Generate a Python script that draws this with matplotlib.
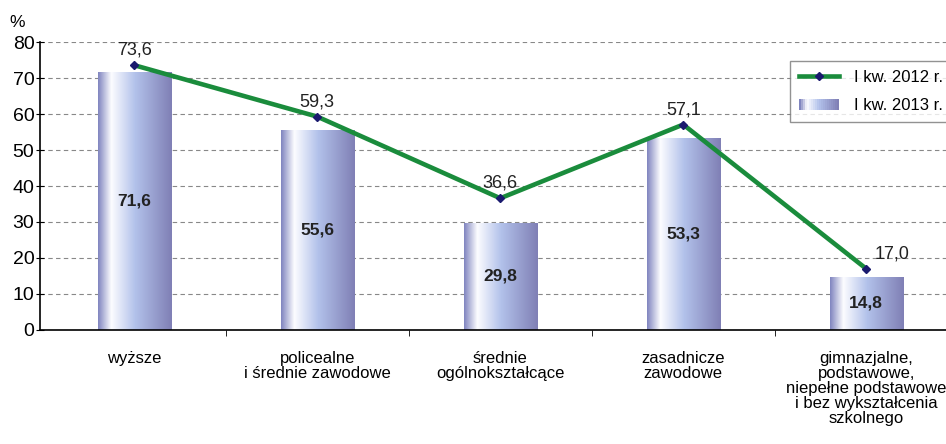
import numpy as np
import matplotlib.pyplot as plt
from matplotlib.colors import LinearSegmentedColormap
from matplotlib.patches import Rectangle
from matplotlib.lines import Line2D
from matplotlib.legend_handler import HandlerBase

plt.rcParams['font.family'] = ['Liberation Sans', 'DejaVu Sans']

categories = ['wyższe', 'policealne\ni średnie zawodowe', 'średnie\nogólnokształcące',
              'zasadnicze\nzawodowe',
              'gimnazjalne,\npodstawowe,\nniepełne podstawowe\ni bez wykształcenia\nszkolnego']
q1_2012 = [73.6, 59.3, 36.6, 57.1, 17.0]
q1_2013 = [71.6, 55.6, 29.8, 53.3, 14.8]
line_label_dx = [0, 0, 0, 0, 0.14]

# gradient for the bars (left dark, bright highlight, then darker to the right)
grad = LinearSegmentedColormap.from_list('bar', [
    (0.00, (0.50, 0.52, 0.75)),
    (0.18, (0.99, 0.99, 1.00)),
    (0.50, (0.70, 0.76, 0.92)),
    (1.00, (0.50, 0.50, 0.71)),
])
green = '#1a8c3c'

fig = plt.figure(figsize=(9.46, 4.44), dpi=100)
ax = fig.add_axes([0.0423, 0.257, 0.973, 0.648])

x = np.arange(len(categories))
width = 0.4
bars = ax.bar(x, q1_2013, width=width, color='none', zorder=2)
g = np.linspace(0, 1, 256).reshape(1, -1)
for b in bars:
    x0, y0 = b.get_x(), b.get_y()
    w, h = b.get_width(), b.get_height()
    im = ax.imshow(g, cmap=grad, aspect='auto', extent=[x0, x0 + w, y0, y0 + h], zorder=2)
    im.set_clip_path(b)

for xi, v in zip(x, q1_2013):
    ax.text(xi, v / 2, f'{v:.1f}'.replace('.', ','), ha='center', va='center',
            fontsize=12.5, fontweight='semibold', color='#222222', zorder=4)

ax.plot(x, q1_2012, color=green, lw=3.3, zorder=3, solid_capstyle='butt')
ax.plot(x, q1_2012, ls='none', marker='D', ms=4, color='#1a1a6e', zorder=4)
for xi, v, dx in zip(x, q1_2012, line_label_dx):
    ax.text(xi + dx, v + 1.8, f'{v:.1f}'.replace('.', ','), ha='center', va='bottom',
            fontsize=13, color='#222222', zorder=4)

ax.set_xlim(-0.515, len(categories) - 0.485)
ax.set_ylim(0, 80)
ax.set_yticks(range(0, 81, 10))
ax.tick_params(axis='y', labelsize=14, length=6, direction='inout', pad=1)
ax.set_xticks(x)
ax.set_xticklabels(categories, fontsize=12, linespacing=1.0)
ax.set_xticks(x[:-1] + 0.5, minor=True)
ax.tick_params(axis='x', which='major', length=0, pad=15)
ax.tick_params(axis='x', which='minor', length=4, direction='out')
ax.yaxis.grid(True, ls=(0, (4, 3)), color='#888888', lw=0.8)
ax.set_axisbelow(True)
for s in ['top', 'right']:
    ax.spines[s].set_visible(False)
ax.spines['left'].set_linewidth(1.2)
ax.spines['bottom'].set_linewidth(1.2)
fig.text(0.010, 0.94, '%', fontsize=12.5)


class GradHandler(HandlerBase):
    def create_artists(self, legend, orig, xd, yd, w, h, fontsize, trans):
        arts = []
        n = 20
        for i in range(n):
            r = Rectangle((xd + w * i / n, yd + h * 0.05), w / n + 0.3, h * 0.9,
                          facecolor=grad(i / (n - 1)), edgecolor='none', transform=trans)
            arts.append(r)
        return arts


line_h = Line2D([], [], color=green, lw=3.3, marker='D', ms=4,
                markerfacecolor='#1a1a6e', markeredgecolor='#1a1a6e')
bar_h = Rectangle((0, 0), 1, 1)
leg = ax.legend([line_h, bar_h], ['I kw. 2012 r.', 'I kw. 2013 r.'],
                handler_map={Rectangle: GradHandler()},
                loc='upper left', bbox_to_anchor=(0.835, 0.863),
                bbox_transform=fig.transFigure, fontsize=12,
                frameon=True, fancybox=False, edgecolor='#777777',
                handlelength=2.4, handletextpad=0.9, labelspacing=0.8,
                borderpad=0.55, borderaxespad=0)
leg.get_frame().set_linewidth(1.0)

fig.savefig('out.png', dpi=100)
